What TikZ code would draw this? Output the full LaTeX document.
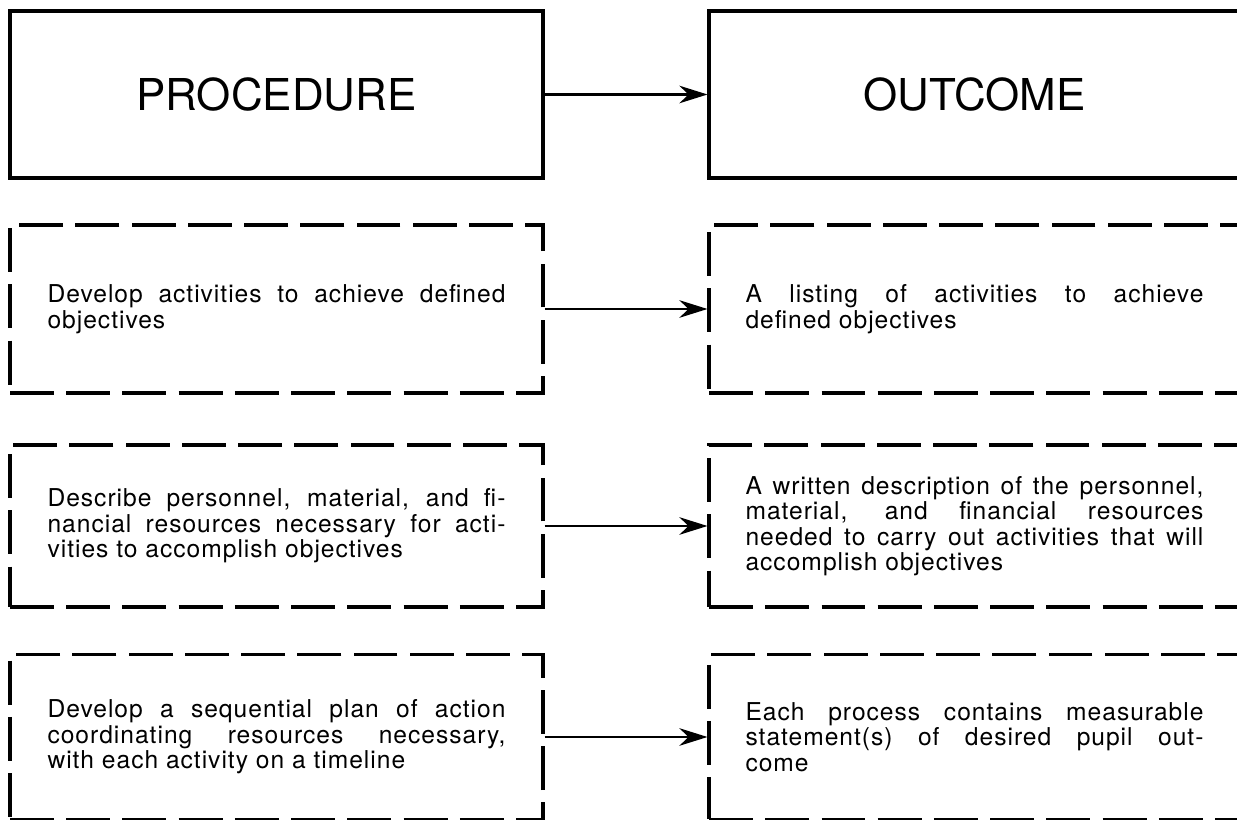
\documentclass[tikz,border=0pt]{standalone}
\usepackage{fontspec}
\setmainfont{TeX Gyre Heros}
\newfontfamily\boxfont[LetterSpace=4]{TeX Gyre Heros}
\usetikzlibrary{arrows.meta}

\tikzset{
  titlebox/.style={draw, line width=1.8pt, minimum width=10.66cm, minimum height=3.34cm,
    font=\fontsize{25}{30}\selectfont},
  stepbox/.style={draw, line width=1.8pt, dash pattern=on 25pt off 7pt,
    text width=9.16cm, align=justify, inner xsep=0.75cm, minimum height=3.3cm,
    font=\boxfont\fontsize{14}{14.5}\selectfont},
  flow/.style={line width=1.2pt, -{Stealth[length=16pt,width=10pt]}}
}

\begin{document}
\begin{tikzpicture}[x=0.02cm, y=-0.02cm]
    % page frame
    \useasboundingbox (0,0) rectangle (1237,820);
    \clip (0,0) rectangle (1237,820);

    % headings
    \node[titlebox] (proc) at (276.5,94.5) {PROCEDURE};
    \node[titlebox, minimum width=10.62cm] (outc) at (974.5,94.5) {OUTCOME};

    % procedure steps
    \node[stepbox, minimum height=3.36cm] (procA) at (276.5,309)
      {Develop activities to achieve defined\linebreak objectives};
    \node[stepbox, minimum height=3.24cm] (procB) at (276.5,526)
      {Describe personnel, material, and fi-\linebreak nancial resources necessary for acti-\linebreak vities to accomplish objectives};
    \node[stepbox] (procC) at (276.5,737)
      {Develop a sequential plan of action\linebreak coordinating resources necessary,\linebreak with each activity on a timeline};

    % outcomes
    \node[stepbox, inner xsep=0.7cm, minimum width=10.62cm, minimum height=3.36cm] (outcA) at (974.5,309)
      {A listing of activities to achieve\linebreak defined objectives};
    \node[stepbox, inner xsep=0.7cm, minimum width=10.62cm, minimum height=3.24cm] (outcB) at (974.5,526)
      {A written description of the personnel,\linebreak material, and financial resources\linebreak needed to carry out activities that will\linebreak accomplish objectives};
    \node[stepbox, inner xsep=0.7cm, minimum width=10.62cm] (outcC) at (974.5,737)
      {Each process contains measurable\linebreak statement(s) of desired pupil out-\linebreak come};

    % arrows
    \draw[flow] (proc.east) -- (outc.west);
    \draw[flow] (procA.east) -- (outcA.west);
    \draw[flow] (procB.east) -- (outcB.west);
    \draw[flow] (procC.east) -- (outcC.west);
\end{tikzpicture}
\end{document}
